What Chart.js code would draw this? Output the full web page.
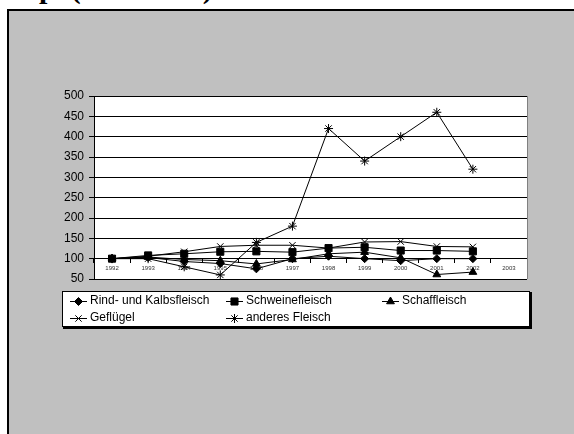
<!DOCTYPE html>
<html>
<head>
<meta charset="utf-8">
<script src="https://cdn.jsdelivr.net/npm/chart.js@4/dist/chart.umd.min.js"></script>
<style>
  html, body { margin: 0; padding: 0; background: #fff; }
  body { width: 574px; height: 434px; position: relative; overflow: hidden; }
  #titel {
    position: absolute; left: 24px; top: -27px;
    font: bold 30px "Liberation Serif", "Times New Roman", serif;
    line-height: 30px; white-space: nowrap; color: #000;
  }
  #rahmen {
    position: absolute; left: 7px; top: 9px; right: -10px; bottom: -10px;
    background: #c0c0c0; border-left: 2px solid #000; border-top: 2px solid #000;
  }
  #grafik { position: absolute; left: 0; top: 0; }
</style>
</head>
<body>
<div id="titel">op. (1992=100)</div>
<div id="rahmen"></div>
<canvas id="grafik" width="574" height="434"></canvas>
<script>
// Daten (1992 = 100)
const jahre = ["1992", "1993", "1994", "1995", "1996", "1997", "1998", "1999", "2000", "2001", "2002", "2003"];
const rind = [100, 103, 93, 88, 75, 100, 106, 100, 95, 100, 100, null];
const schwein = [100, 108, 112, 117, 118, 116, 126, 128, 120, 120, 118, null];
const schaf = [100, 104, 98, 95, 87, 98, 112, 116, 102, 61, 67, null];
const gefluegel = [100, 106, 117, 130, 133, 133, 126, 141, 142, 130, 129, null];
const anderes = [100, 100, 80, 60, 140, 180, 420, 340, 400, 460, 320, null];

const yTicks = [50, 100, 150, 200, 250, 300, 350, 400, 450, 500];

function serie(label, data, style, radius) {
  return {
    label: label,
    data: data,
    borderColor: "#000",
    backgroundColor: "#000",
    borderWidth: 1,
    pointStyle: style,
    pointRadius: radius,
    pointBorderWidth: 1,
    pointBorderColor: "#000",
    pointBackgroundColor: "#000",
    tension: 0,
    spanGaps: false,
  };
}

// Weisser Plotbereich mit grauem Rahmen rechts
const plotBereich = {
  id: "plotBereich",
  beforeDraw(chart) {
    const { ctx, chartArea: a } = chart;
    ctx.save();
    ctx.fillStyle = "#fff";
    ctx.fillRect(a.left, a.top, a.right - a.left, a.bottom - a.top);
    ctx.restore();
  },
  beforeDatasetsDraw(chart) {
    const { ctx, chartArea: a } = chart;
    ctx.save();
    ctx.strokeStyle = "#808080";
    ctx.lineWidth = 1;
    ctx.beginPath();
    ctx.moveTo(Math.round(a.right) + 0.5, a.top);
    ctx.lineTo(Math.round(a.right) + 0.5, a.bottom);
    ctx.stroke();
    ctx.restore();
  },
};

// Legende im Excel-Stil (drei Spalten)
const legende = {
  id: "legende",
  afterDraw(chart) {
    const ctx = chart.ctx;
    const box = { x: 62, y: 291, w: 468, h: 36 };
    const spalten = [70, 226, 382];
    const zeilen = [300.5, 317.5];
    ctx.save();
    ctx.fillStyle = "#000";
    ctx.fillRect(box.x + 1, box.y + 1, box.w + 1, box.h + 1);
    ctx.fillStyle = "#fff";
    ctx.fillRect(box.x, box.y, box.w, box.h);
    ctx.strokeStyle = "#000";
    ctx.lineWidth = 1;
    ctx.strokeRect(box.x + 0.5, box.y + 0.5, box.w - 1, box.h - 1);
    ctx.font = "12px 'Liberation Sans', Arial, sans-serif";
    ctx.textBaseline = "middle";
    chart.data.datasets.forEach((ds, i) => {
      const x = spalten[i % 3];
      const y = zeilen[Math.floor(i / 3)];
      ctx.strokeStyle = "#000";
      ctx.fillStyle = "#000";
      ctx.lineWidth = 1;
      ctx.beginPath();
      ctx.moveTo(x, Math.round(y) + 0.5);
      ctx.lineTo(x + 17, Math.round(y) + 0.5);
      ctx.stroke();
      Chart.helpers.drawPoint(ctx, {
        pointStyle: ds.pointStyle,
        radius: ds.pointRadius,
        rotation: 0,
        borderWidth: 1,
      }, x + 8.5, Math.round(y) + 0.5);
      ctx.fillStyle = "#000";
      ctx.fillText(ds.label, x + 20, y);
    });
    ctx.restore();
  },
};

new Chart(document.getElementById("grafik"), {
  type: "line",
  data: {
    labels: jahre,
    datasets: [
      serie("Rind- und Kalbsfleisch", rind, "rectRot", 4),
      serie("Schweinefleisch", schwein, "rect", 5),
      serie("Schaffleisch", schaf, "triangle", 4.5),
      serie("Geflügel", gefluegel, "crossRot", 4.5),
      serie("anderes Fleisch", anderes, "star", 4.5),
    ],
  },
  options: {
    responsive: false,
    devicePixelRatio: 1,
    animation: false,
    layout: { padding: { left: 0, top: 96, right: 47, bottom: 155 } },
    plugins: {
      legend: { display: false },
      title: { display: false },
      tooltip: { enabled: false },
    },
    scales: {
      x: {
        type: "category",
        position: { y: 100 },
        offset: true,
        afterFit(scale) { scale.height = 0; },
        grid: {
          offset: true,
          drawOnChartArea: false,
          drawTicks: true,
          tickLength: 4,
          color: "#000",
        },
        border: { color: "#000", width: 1 },
        ticks: {
          color: "#333",
          font: { family: "'Liberation Sans', Arial, sans-serif", size: 6 },
          padding: 2,
          maxRotation: 0,
          autoSkip: false,
        },
      },
      y: {
        min: 50,
        max: 500,
        afterFit(scale) { scale.width = 94; },
        afterBuildTicks(scale) { scale.ticks = yTicks.map(v => ({ value: v })); },
        grid: { color: "#000", tickLength: 5, lineWidth: 1 },
        border: { color: "#000", width: 1 },
        ticks: {
          color: "#000",
          font: { family: "'Liberation Sans', Arial, sans-serif", size: 12 },
          padding: 5,
        },
      },
    },
  },
  plugins: [plotBereich, legende],
});
</script>
</body>
</html>
